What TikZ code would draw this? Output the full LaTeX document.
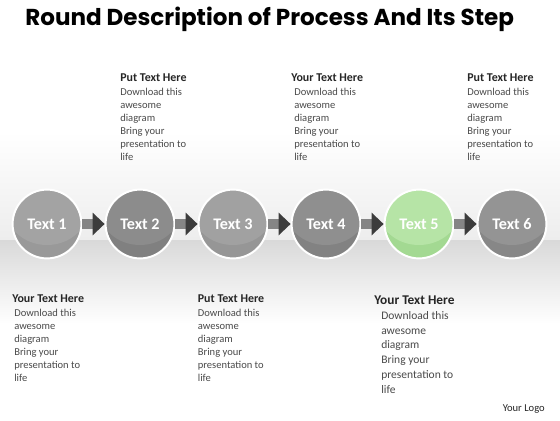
\documentclass[tikz,border=0pt]{standalone}
\usepackage{fontspec}
\setmainfont{Carlito}
\newfontfamily\titlefont{Poppins}
\usepackage{xcolor}
\usetikzlibrary{arrows.meta,positioning}
\definecolor{InkDark}{HTML}{262626}
\definecolor{InkBody}{HTML}{4A4A4A}
\definecolor{BandTop}{HTML}{EDEDED}
\definecolor{BandLow}{HTML}{D9D9D9}
\definecolor{LinkGrey}{HTML}{858585}
\definecolor{LinkHead}{HTML}{3C3C3C}
\definecolor{GreenUp}{HTML}{B6E4A6}
\definecolor{GreenLow}{HTML}{A3D992}

\begin{document}
\begin{tikzpicture}[x=1cm,y=1cm,>=Latex]
  \tikzset{
    stepnode/.style n args={2}{circle,minimum size=1.72cm,inner sep=0pt,draw=white,line width=1.4pt,
      fill=#1,text=white,font=\bfseries\fontsize{11.5}{13}\selectfont,
      path picture={\fill[#2] ([yshift=.375cm]path picture bounding box.center) ellipse (1.025cm and .9cm);}},
    link/.style={line width=.25cm,draw=LinkGrey,-{Triangle[length=.3cm,width=.55cm,color=LinkHead]}},
    headtxt/.style={anchor=base west,inner sep=0pt,text=InkDark,font=\bfseries\fontsize{8.5}{10}\selectfont},
    bodytxt/.style={anchor=north west,inner sep=0pt,align=left,text=InkBody,font=\fontsize{7.5}{9.3}\selectfont},
    bigheadtxt/.style={headtxt,font=\bfseries\fontsize{9.5}{11}\selectfont},
    bigbodytxt/.style={bodytxt,font=\fontsize{8.2}{10.5}\selectfont}
  }
  % backdrop
  \fill[white] (0,0) rectangle (14,10.5);
  \shade[top color=white,bottom color=BandTop] (0,7.2) rectangle (14,4.5);
  \shade[top color=BandLow,bottom color=white] (0,4.5) rectangle (14,2.4);

  \node[anchor=base west,inner sep=0pt,font=\titlefont\bfseries\fontsize{16.4}{18}\selectfont] (title) at (0.625,9.85)
    {Round Description of Process And Its Step};

  \node[stepnode={black!40}{black!36}] (s1) at (1.175,4.9) {Text 1};
  \node[stepnode={black!50}{black!45}] (s2) at (3.5,4.9) {Text 2};
  \node[stepnode={black!41}{black!37}] (s3) at (5.825,4.9) {Text 3};
  \node[stepnode={black!49}{black!44}] (s4) at (8.15,4.9) {Text 4};
  \node[stepnode={GreenLow}{GreenUp}] (s5) at (10.475,4.9) {Text 5};
  \node[stepnode={black!47}{black!42}] (s6) at (12.8,4.9) {Text 6};
  \draw[link] (s1) -- (s2);
  \draw[link] (s2) -- (s3);
  \draw[link] (s3) -- (s4);
  \draw[link] (s4) -- (s5);
  \draw[link] (s5) -- (s6);

  \node[headtxt] (h2) at (3.0,8.46) {Put Text Here};
  \node[bodytxt] (b2) at (3.0,8.3) {Download this\\awesome\\diagram\\Bring your\\presentation to\\life};
  \node[headtxt] (h4) at (7.275,8.46) {Your Text Here};
  \node[bodytxt] (b4) at (7.35,8.3) {Download this\\awesome\\diagram\\Bring your\\presentation to\\life};
  \node[headtxt] (h6) at (11.675,8.46) {Put Text Here};
  \node[bodytxt] (b6) at (11.675,8.3) {Download this\\awesome\\diagram\\Bring your\\presentation to\\life};

  \node[headtxt] (h1) at (0.3,2.94) {Your Text Here};
  \node[bodytxt] (b1) at (0.35,2.775) {Download this\\awesome\\diagram\\Bring your\\presentation to\\life};
  \node[headtxt] (h3) at (4.94,2.94) {Put Text Here};
  \node[bodytxt] (b3) at (4.94,2.775) {Download this\\awesome\\diagram\\Bring your\\presentation to\\life};
  \node[bigheadtxt] (h5) at (9.35,2.9) {Your Text Here};
  \node[bigbodytxt] (b5) at (9.525,2.725) {Download this\\awesome\\diagram\\Bring your\\presentation to\\life};

  \node[anchor=base east,inner sep=0pt,text=InkDark,font=\fontsize{7.5}{9}\selectfont] (logo) at (13.625,0.225) {Your Logo};
\end{tikzpicture}
\end{document}
